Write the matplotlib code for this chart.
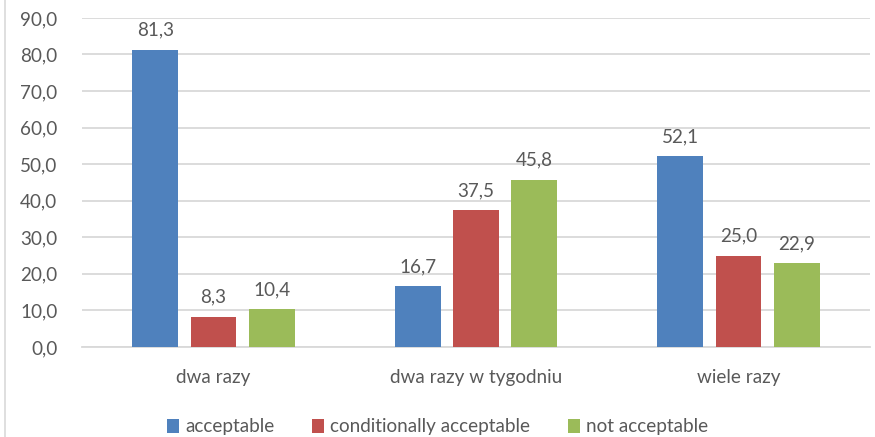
import matplotlib
matplotlib.use("Agg")
import matplotlib.pyplot as plt
import numpy as np
from matplotlib.lines import Line2D

categories = ["dwa razy", "dwa razy w tygodniu", "wiele razy"]
series_names = ["acceptable", "conditionally acceptable", "not acceptable"]
acceptable = [81.3, 16.7, 52.1]
conditionally = [8.3, 37.5, 25.0]
not_acceptable = [10.4, 45.8, 22.9]
colors = ["#4F81BD", "#C0504D", "#9BBB59"]
yticks = np.arange(0, 91, 10)

plt.rcParams["font.family"] = ["Lato", "DejaVu Sans"]
text_color = "#595959"
fs = 13.6

fig = plt.figure(figsize=(8.75, 4.37), dpi=100)
ax = fig.add_axes([0.094, 0.206, 0.9, 0.753])

x = np.arange(len(categories))
width = 0.175
step = 0.222
for i, (vals, name, c) in enumerate(zip([acceptable, conditionally, not_acceptable], series_names, colors)):
    pos = x + (i - 1) * step
    bars = ax.bar(pos, vals, width=width, color=c, label=name, zorder=3)
    for b, v in zip(bars, vals):
        ax.text(b.get_x() + b.get_width() / 2, v + 3.0, f"{v:.1f}".replace(".", ","),
                ha="center", va="bottom", fontsize=fs, color=text_color)

ax.set_ylim(0, 90)
ax.set_xlim(-0.5, 2.5)
ax.set_yticks(yticks)
ax.set_yticklabels([f"{v:.1f}".replace(".", ",") for v in yticks], fontsize=fs, color=text_color)
ax.set_xticks(x)
ax.set_xticklabels(categories, fontsize=fs, color=text_color)
ax.tick_params(axis="y", length=0, pad=18)
ax.tick_params(axis="x", length=0, pad=16)
ax.yaxis.grid(True, color="#D9D9D9", linewidth=1.3, zorder=0)
ax.set_axisbelow(True)
for s in ["top", "right", "left"]:
    ax.spines[s].set_visible(False)
ax.spines["bottom"].set_color("#D9D9D9")
ax.spines["bottom"].set_linewidth(1.3)

leg = fig.legend(loc="lower center", bbox_to_anchor=(0.5, -0.035), ncol=3, frameon=False,
                 fontsize=fs, handlelength=0.65, handleheight=0.75, handletextpad=0.3,
                 columnspacing=2.0)
for t in leg.get_texts():
    t.set_color(text_color)

fig.add_artist(Line2D([0.006, 0.006], [0, 1], transform=fig.transFigure, color="#D9D9D9", linewidth=1.2))

fig.savefig("out.png", dpi=100)
